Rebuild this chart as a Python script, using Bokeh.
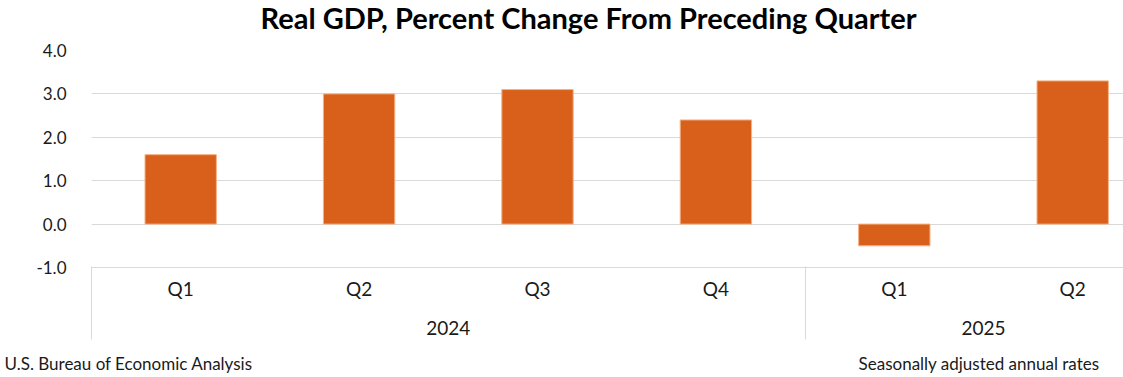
from bokeh.plotting import figure
from bokeh.layouts import column
from bokeh.models import (Range1d, LinearAxis, FixedTicker, NumeralTickFormatter, Grid)
from bokeh.core.properties import value
from bokeh.embed import file_html
from bokeh.resources import INLINE

# ---- data ----
quarters = ["Q1", "Q2", "Q3", "Q4", "Q1", "Q2"]
years = ["2024", "2025"]
year_sizes = [4, 2]
values = [1.6, 3.0, 3.1, 2.4, -0.5, 3.3]
y_ticks = [-1.0, 0.0, 1.0, 2.0, 3.0, 4.0]
title_text = "Real GDP, Percent Change From Preceding Quarter"
source_text = "U.S. Bureau of Economic Analysis"
note_text = "Seasonally adjusted annual rates"

FONT = "Lato"
BAR = "#D8601B"
GRID = "#D9D9D9"
TXT = "#1A1A1A"

# positions derived from category indices
centers = [i + 0.5 for i in range(len(quarters))]
bounds = [0]
for s in year_sizes:
    bounds.append(bounds[-1] + s)
year_centers = [(bounds[i] + bounds[i + 1]) / 2 for i in range(len(years))]

W = 1123
TITLE_H, MAIN_H, FOOT_H = 36, 312, 29
left_px = 91
cat_px = 178.4
x_end = (W - left_px) / cat_px


def text_strip(h):
    f = figure(width=W, height=h, output_backend="svg", toolbar_location=None,
               x_range=Range1d(0, W), y_range=Range1d(0, h),
               x_axis_type=None, y_axis_type=None,
               min_border_left=0, min_border_right=0, min_border_top=0, min_border_bottom=0,
               frame_align=False)
    f.outline_line_color = None
    f.xgrid.visible = False
    f.ygrid.visible = False
    f.background_fill_color = "white"
    f.border_fill_color = "white"
    return f


# ---- title strip ----
tf = text_strip(TITLE_H)
tf.text(x=[588], y=[TITLE_H - 17], text=[title_text], text_align="center",
        text_baseline="middle", text_font=value(FONT), text_font_size="29px",
        text_font_style="bold", text_color="black")

# ---- main chart ----
p = figure(width=W, height=MAIN_H, output_backend="svg", toolbar_location=None,
           x_range=Range1d(0, x_end), y_range=Range1d(y_ticks[0], y_ticks[-1]),
           x_axis_type=None, y_axis_type=None,
           min_border_left=left_px, min_border_right=0, min_border_top=50 - TITLE_H,
           min_border_bottom=81, frame_align=False)
p.outline_line_color = None
p.background_fill_color = "white"
p.border_fill_color = "white"

ya = LinearAxis(ticker=FixedTicker(ticks=y_ticks), formatter=NumeralTickFormatter(format="0.0"))
ya.axis_line_color = None
ya.major_tick_line_color = None
ya.minor_tick_line_color = None
ya.major_label_standoff = 19
ya.major_label_text_font = FONT
ya.major_label_text_font_size = "17px"
ya.major_label_text_color = TXT
p.add_layout(ya, "left")

p.add_layout(Grid(dimension=1, ticker=FixedTicker(ticks=y_ticks), grid_line_color=GRID))

qa = LinearAxis(ticker=FixedTicker(ticks=centers))
qa.major_label_overrides = {c: q for c, q in zip(centers, quarters)}
qa.axis_line_color = GRID
qa.major_tick_line_color = None
qa.major_tick_out = 0
qa.major_tick_in = 0
qa.minor_tick_line_color = None
qa.major_label_standoff = 9
qa.major_label_text_font = FONT
qa.major_label_text_font_size = "19px"
qa.major_label_text_color = TXT
p.add_layout(qa, "below")

ya2 = LinearAxis(ticker=FixedTicker(ticks=year_centers))
ya2.major_label_overrides = {c: y for c, y in zip(year_centers, years)}
ya2.axis_line_color = None
ya2.major_tick_line_color = None
ya2.minor_tick_line_color = None
ya2.major_label_standoff = 12
ya2.major_label_text_font = FONT
ya2.major_label_text_font_size = "19px"
ya2.major_label_text_color = TXT
p.add_layout(ya2, "below")

sa = LinearAxis(ticker=FixedTicker(ticks=bounds[:-1]))
sa.major_label_overrides = {b: "" for b in bounds[:-1]}
sa.axis_line_color = None
sa.major_tick_line_color = GRID
sa.major_tick_out = 2
sa.major_tick_in = 71
sa.minor_tick_line_color = None
sa.major_label_text_font_size = "1px"
sa.major_label_standoff = 0
p.add_layout(sa, "below")

p.vbar(x=centers, top=values, bottom=0, width=0.4, fill_color=BAR,
       line_color="#F4B183", line_width=1)

# ---- footer strip ----
ff = text_strip(FOOT_H)
ff.text(x=[4], y=[FOOT_H - 15], text=[source_text], text_align="left",
        text_baseline="middle", text_font=value(FONT), text_font_size="17px", text_color=TXT)
ff.text(x=[1099], y=[FOOT_H - 15], text=[note_text], text_align="right",
        text_baseline="middle", text_font=value(FONT), text_font_size="17px", text_color=TXT)

layout = column(tf, p, ff, spacing=0)
open("out.html", "w").write(file_html(layout, INLINE))
